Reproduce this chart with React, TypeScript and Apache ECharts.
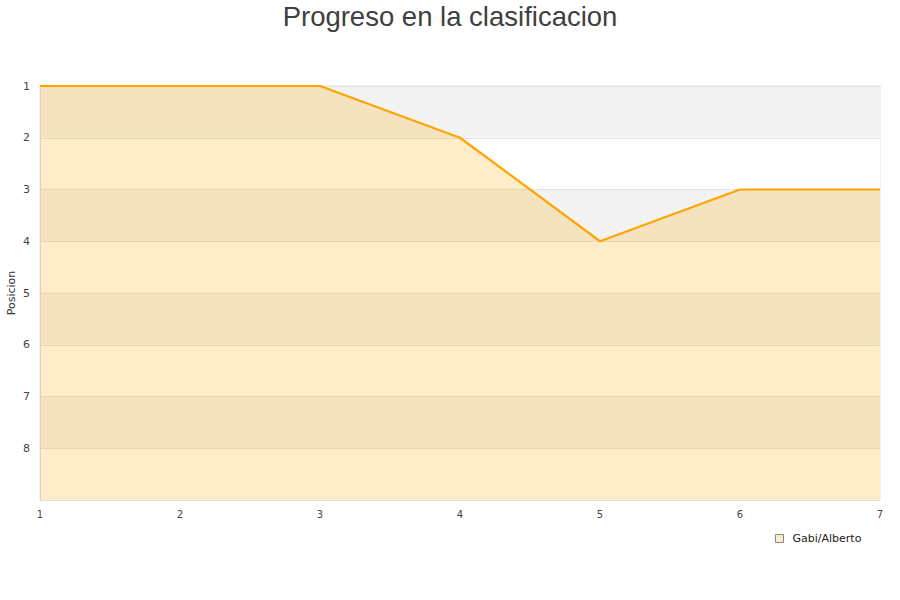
import React, { useEffect, useRef } from "react";
import * as echarts from "echarts";

const jornadas = [1, 2, 3, 4, 5, 6, 7];
const posiciones = [1, 1, 1, 2, 4, 3, 3];
const seriesName = "Gabi/Alberto";
const titleText = "Progreso en la clasificacion";

export default function App() {
  const ref = useRef<HTMLDivElement>(null);
  useEffect(() => {
    const chart = echarts.init(ref.current!, null, { renderer: "svg" });
    chart.setOption({
      animation: false,
      title: {
        text: titleText,
        left: "center",
        top: -3,
        textStyle: { fontFamily: "Liberation Sans", fontSize: 27.5, fontWeight: "normal", color: "#404040" },
      },
      grid: {
        left: 40, right: 20, top: 86, bottom: 100,
        outerBoundsMode: "none",
        containLabel: false,
        show: true, borderColor: "#dddddd", borderWidth: 1, backgroundColor: "transparent",
      },
      legend: {
        data: [seriesName],
        left: 770,
        top: 528,
        icon: "rect",
        itemWidth: 8,
        itemHeight: 8,
        itemStyle: { color: "#ffeccb", borderColor: "#888", borderWidth: 1 },
        textStyle: { fontFamily: "DejaVu Sans", fontSize: 11, color: "#222", padding: [0, 0, 0, 4] },
      },
      xAxis: {
        type: "value",
        min: 1,
        max: 7,
        interval: 1,
        axisLine: { show: true, lineStyle: { color: "#dddddd" } },
        axisTick: { show: false },
        splitLine: { show: false },
        axisLabel: { fontFamily: "DejaVu Sans", fontSize: 10, color: "#444", margin: 9 },
      },
      yAxis: {
        type: "value",
        inverse: true,
        min: 1,
        max: 9,
        interval: 1,
        name: "Posicion",
        nameLocation: "middle",
        nameGap: 23,
        nameMoveOverlap: false,
        nameTextStyle: { fontFamily: "DejaVu Sans", fontSize: 11, color: "#333" },
        axisLine: { show: true, lineStyle: { color: "#dddddd" } },
        axisTick: { show: false },
        splitLine: { show: true, lineStyle: { color: "#e2e2e2" } },
        splitArea: { show: true, areaStyle: { color: ["#f3f3f3", "#ffffff"] } },
        axisLabel: {
          fontFamily: "DejaVu Sans",
          fontSize: 11,
          color: "#444",
          margin: 10,
          formatter: (v: number) => (v === 9 ? "" : String(v)),
        },
      },
      series: [
        {
          name: seriesName,
          type: "line",
          data: jornadas.map((j, i) => [j, posiciones[i]]),
          showSymbol: false,
          symbol: "none",
          lineStyle: { color: "#ffa500", width: 2.2 },
          itemStyle: { color: "#ffa500" },
          areaStyle: { color: "#ffa500", opacity: 0.21, origin: "end" },
        },
      ],
    });
    return () => chart.dispose();
  }, []);
  return <div ref={ref} style={{ width: 900, height: 600, position: "absolute", left: 0, top: 0 }} />;
}
